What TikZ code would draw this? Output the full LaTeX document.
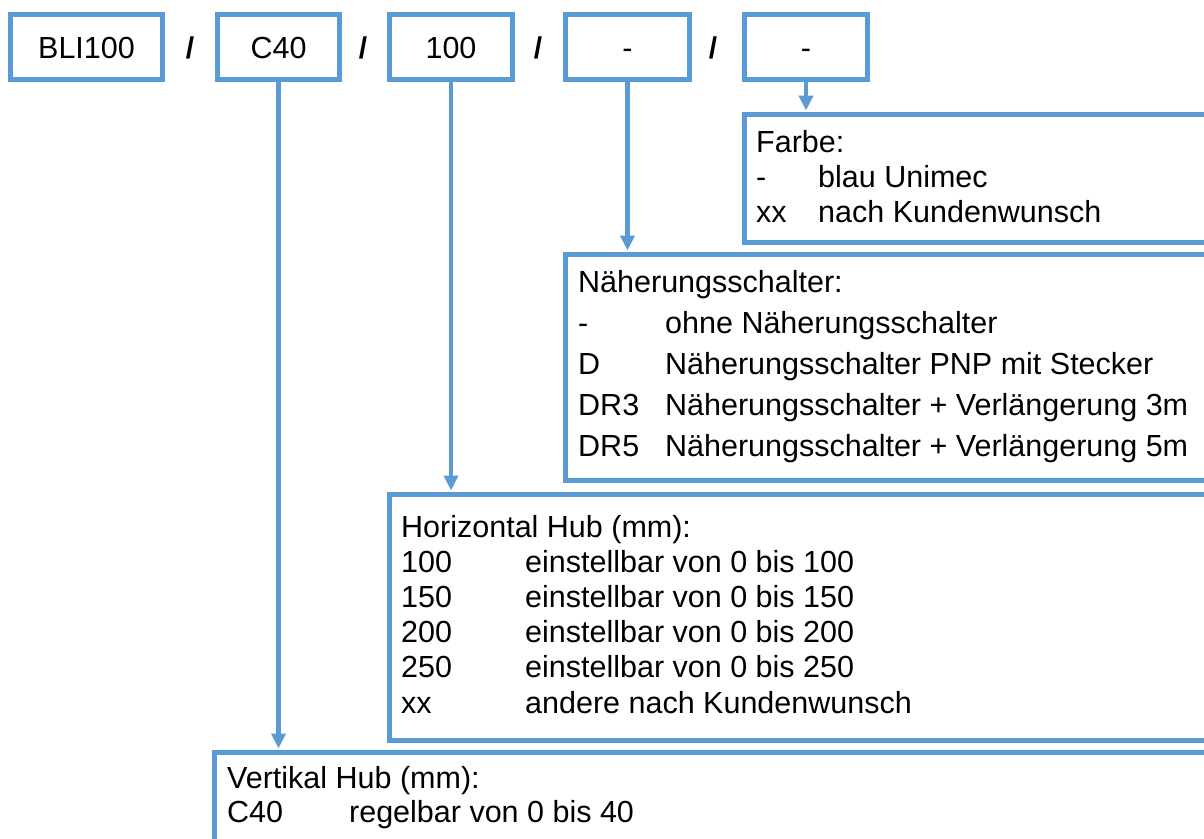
\documentclass[tikz,border=0pt]{standalone}
\usepackage{fontspec}
\setmainfont{Liberation Sans}
\usetikzlibrary{arrows.meta}
\definecolor{unimecblue}{RGB}{91,155,213}
\tikzset{
  topbox/.style={draw=unimecblue, line width=5pt, fill=white, inner sep=0pt, outer sep=0pt,
    minimum height=65pt, text height=22pt, text depth=0pt, font=\fontsize{30.5}{35}\selectfont},
  slash/.style={inner sep=0pt, font=\fontsize{30}{35}\selectfont\bfseries},
  infobox/.style={draw=unimecblue, line width=5pt, fill=white, inner sep=0pt, outer sep=0pt,
    anchor=north west, minimum width=1100pt},
  infotext/.style={anchor=base west, inner sep=0pt, align=left, font=\fontsize{30.5}{#1}\selectfont},
  conn/.style={draw=unimecblue, line width=4.5pt, -{Triangle[length=15pt,width=14pt]}, shorten >=4pt},
}
\begin{document}
\begin{tikzpicture}[x=1pt, y=-1pt] % Bestellschluessel
         \useasboundingbox (0,0) rectangle (1204,838);
         \clip (0,0) rectangle (1204,838);
         \fill[white] (0,0) rectangle (1204,838);
         % Kopfzeile
         \node[topbox, minimum width=152pt] (typ) at (86.5,47) {BLI100};
         \node[slash] (s1) at (190,48) {/};
         \node[topbox, minimum width=122pt] (vert) at (278.5,47) {C40};
         \node[slash] (s2) at (363,48) {/};
         \node[topbox, minimum width=123pt] (hor) at (451,47) {100};
         \node[slash] (s3) at (538,48) {/};
         \node[topbox, minimum width=124pt] (sensor) at (627.5,47) {-};
         \node[slash] (s4) at (713,48) {/};
         \node[topbox, minimum width=123pt] (farbe) at (806,47) {-};
         % Erklaerungen
         \node[infobox, minimum height=128pt] (farbinfo) at (744.5,114.5) {};
         \node[infobox, minimum height=226pt] (sensorinfo) at (565.5,254.5) {};
         \node[infobox, minimum height=246pt] (horinfo) at (389.5,494.5) {};
         \node[infobox, minimum height=150pt] (vertinfo) at (214.5,752.5) {};
         \node[infotext=35] (farbtext) at (756,152) {\begin{tabular}[t]{@{}p{62pt}@{}l@{}}
           \multicolumn{2}{@{}l@{}}{Farbe:}\\
           - & blau Unimec\\
           xx & nach Kundenwunsch
         \end{tabular}};
         \node[infotext=41] (sensortext) at (578,292) {\begin{tabular}[t]{@{}p{87pt}@{}l@{}}
           \multicolumn{2}{@{}l@{}}{Näherungsschalter:}\\
           - & ohne Näherungsschalter\\
           D & Näherungsschalter PNP mit Stecker\\
           DR3 & Näherungsschalter + Verlängerung 3m\\
           DR5 & Näherungsschalter + Verlängerung 5m
         \end{tabular}};
         \node[infotext=35.2] (hortext) at (401,537) {\begin{tabular}[t]{@{}p{124pt}@{}l@{}}
           \multicolumn{2}{@{}l@{}}{Horizontal Hub (mm):}\\
           100 & einstellbar von 0 bis 100\\
           150 & einstellbar von 0 bis 150\\
           200 & einstellbar von 0 bis 200\\
           250 & einstellbar von 0 bis 250\\
           xx & andere nach Kundenwunsch
         \end{tabular}};
         \node[infotext=34] (verttext) at (227,788) {\begin{tabular}[t]{@{}p{122pt}@{}l@{}}
           \multicolumn{2}{@{}l@{}}{Vertikal Hub (mm):}\\
           C40 & regelbar von 0 bis 40
         \end{tabular}};
         % Pfeile
         \draw[conn] (farbe.south) -- (farbe.south |- farbinfo.north);
         \draw[conn] (sensor.south) -- (sensor.south |- sensorinfo.north);
         \draw[conn] (hor.south) -- (hor.south |- horinfo.north);
         \draw[conn] (vert.south) -- (vert.south |- vertinfo.north);
      \end{tikzpicture}
\end{document}
